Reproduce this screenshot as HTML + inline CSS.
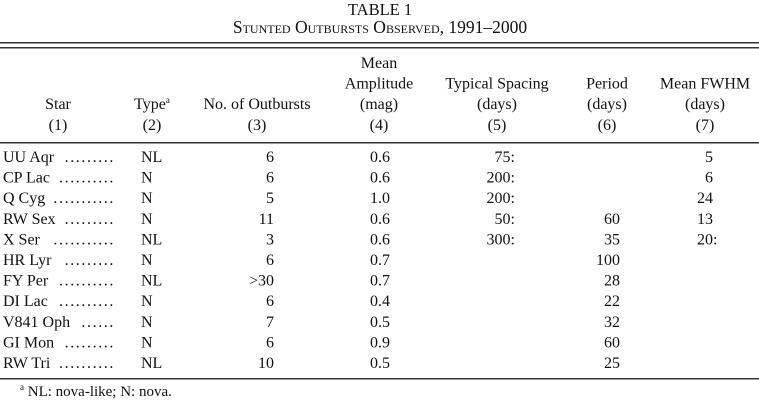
<!DOCTYPE html>
<html><head><meta charset="utf-8">
<style>
html,body{margin:0;padding:0;background:#fff;}
svg{display:block;font-family:"Liberation Serif",serif;font-size:16px;fill:#111;}
</style></head>
<body>
<svg width="759" height="405" viewBox="0 0 759 405">
<text x="380" y="15" text-anchor="middle" font-size="16.5">TABLE 1</text>
<text x="380" y="33" text-anchor="middle" font-size="17.5" style="font-variant:small-caps">Stunted Outbursts Observed, 1991–2000</text>
<rect x="0" y="42" width="759" height="1.5" fill="#333"/>
<rect x="0" y="47" width="759" height="1.5" fill="#333"/>

<g text-anchor="middle">
<text x="58" y="109">Star</text><text x="58" y="130">(1)</text>
<text x="152" y="109">Type<tspan font-size="9" dy="-6">a</tspan></text><text x="152" y="130">(2)</text>
<text x="257" y="109">No. of Outbursts</text><text x="257" y="130">(3)</text>
<text x="379" y="68">Mean</text><text x="379" y="88.5">Amplitude</text><text x="379" y="109">(mag)</text><text x="379" y="130">(4)</text>
<text x="497" y="88.5">Typical Spacing</text><text x="497" y="109">(days)</text><text x="497" y="130">(5)</text>
<text x="607" y="88.5">Period</text><text x="607" y="109">(days)</text><text x="607" y="130">(6)</text>
<text x="705" y="88.5">Mean FWHM</text><text x="705" y="109">(days)</text><text x="705" y="130">(7)</text>
</g>
<rect x="0" y="142" width="759" height="1.5" fill="#333"/>

<g id="rows"></g>

<rect x="0" y="378" width="759" height="1.5" fill="#333"/>
<text x="20" y="396" font-size="15"><tspan font-size="9" dy="-6">a</tspan><tspan dy="6"> NL: nova-like; N: nova.</tspan></text>
</svg>
<script>
const stars=["UU Aqr","CP Lac","Q Cyg","RW Sex","X Ser","HR Lyr","FY Per","DI Lac","V841 Oph","GI Mon","RW Tri"];
const types=["NL","N","N","N","NL","N","NL","N","N","N","NL"];
const counts=["6","6","5","11","3","6",">30","6","7","6","10"];
const amps=["0.6","0.6","1.0","0.6","0.6","0.7","0.7","0.4","0.5","0.9","0.5"];
const spacing=["75:","200:","200:","50:","300:","","","","","",""];
const periods=["","","","60","35","100","28","22","32","60","25"];
const fwhm=["5","6","24","13","20","","","","","",""];
const fwhmColon=[false,false,false,false,true,false,false,false,false,false,false];
const NS="http://www.w3.org/2000/svg";
const g=document.getElementById('rows');
function t(x,y,s,anchor,name){
  const e=document.createElementNS(NS,'text');
  e.setAttribute('x',x);e.setAttribute('y',y);
  if(anchor)e.setAttribute('text-anchor',anchor);
  e.textContent=s;
  
  
  g.appendChild(e);return e;
}
stars.forEach((s,i)=>{
  const y=162+i*20.6;
  const nm=t(3,y,s,null,'star-name');
  // dot leader from end of name to x=115
  const w=nm.getComputedTextLength();
  const start=3+w+8;
  const n=Math.max(0,Math.floor((115-start)/5.6));
  const d=t(115,y,'.'.repeat(n),'end','dot-leader');
  d.setAttribute('letter-spacing','1.6');
  t(141,y,types[i],null,'star-type');
  t(274,y,counts[i],'end','outburst-count');
  t(380,y,amps[i],'middle','mean-amplitude');
  if(spacing[i])t(515,y,spacing[i],'end','typical-spacing');
  if(periods[i])t(620,y,periods[i],'end','period');
  if(fwhm[i]){const e=t(713,y,fwhm[i],'end','mean-fwhm');if(fwhmColon[i])t(713,y,':',null,'fwhm-uncertain-mark');}
});
</script>
</body></html>
